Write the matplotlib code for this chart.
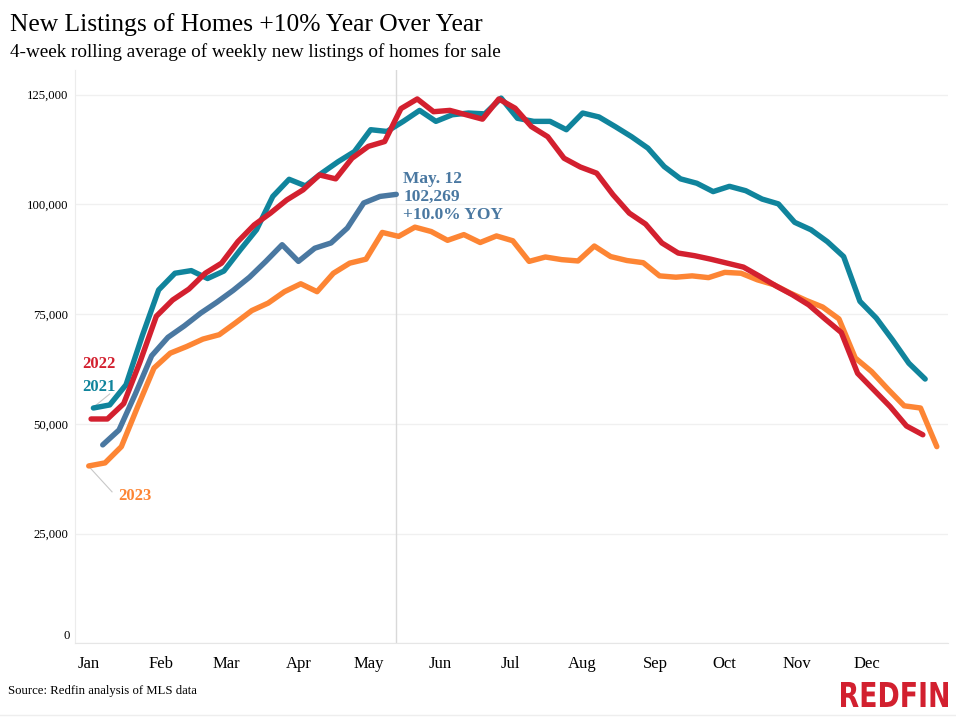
import matplotlib
matplotlib.use("Agg")
import matplotlib.pyplot as plt
import matplotlib.transforms as mtransforms
from matplotlib.font_manager import FontProperties
from matplotlib.patches import PathPatch
from matplotlib.textpath import TextPath
import pandas as pd

SERIF = ["Liberation Serif", "DejaVu Serif"]

# weekly new listings, 4-week rolling average, thousands
listings_2021 = [53.6, 54.3, 58.9, 70.1, 80.5, 84.3, 84.9, 83.1, 84.8, 89.6, 94.2, 101.8,
                 105.7, 104.2, 107.1, 109.7, 112.0, 117.0, 116.6, 118.9, 121.4, 118.9, 120.4,
                 120.8, 120.6, 124.2, 119.6, 118.9, 118.9, 117.0, 120.8, 119.9, 117.7, 115.4,
                 112.8, 108.6, 105.8, 104.8, 102.9, 104.1, 103.1, 101.2, 100.1, 95.9, 94.2,
                 91.5, 88.1, 77.9, 74.1, 69.1, 63.8, 60.2]
listings_2022 = [51.1, 51.1, 54.6, 64.1, 74.5, 78.2, 80.7, 84.3, 86.6, 91.5, 95.3, 98.0,
                 101.0, 103.3, 106.7, 105.8, 110.5, 113.2, 114.3, 121.8, 124.0, 121.1, 121.4,
                 120.4, 119.4, 124.0, 121.9, 117.7, 115.4, 110.5, 108.5, 107.1, 102.2, 98.0,
                 95.5, 91.2, 88.9, 88.3, 87.5, 86.6, 85.7, 83.6, 81.4, 79.4, 77.1, 73.9, 70.8,
                 61.5, 57.7, 53.9, 49.5, 47.5]
listings_2023 = [40.4, 41.1, 44.8, 53.9, 62.7, 66.1, 67.6, 69.3, 70.3, 73.0, 75.8, 77.5,
                 80.1, 81.9, 80.1, 84.3, 86.6, 87.5, 93.6, 92.7, 94.8, 93.8, 91.8, 93.1, 91.3,
                 92.8, 91.7, 87.0, 88.0, 87.4, 87.1, 90.5, 88.1, 87.2, 86.7, 83.7, 83.4, 83.7,
                 83.3, 84.5, 84.3, 82.8, 81.7, 79.8, 78.1, 76.6, 73.9, 65.0, 61.9, 57.9, 54.1,
                 53.6, 44.8]
listings_2024 = [45.2, 48.6, 56.8, 65.5, 69.7, 72.3, 75.2, 77.7, 80.4, 83.4, 87.0, 90.8,
                 87.0, 90.0, 91.2, 94.6, 100.3, 101.8, 102.269]

# first week-ending date of each year
start_dates = {"2021": "2021-01-03", "2022": "2022-01-02", "2023": "2023-01-01", "2024": "2024-01-07"}
colors = {"2021": "#10849c", "2022": "#d3202f", "2023": "#fd8534", "2024": "#4a78a1"}

months = ["Jan", "Feb", "Mar", "Apr", "May", "Jun", "Jul", "Aug", "Sep", "Oct", "Nov", "Dec"]
month_start_days = [0, 31, 59, 90, 120, 151, 181, 212, 243, 273, 304, 334]
y_ticks = [0, 25, 50, 75, 100, 125]
y_tick_labels = ["0", "25,000", "50,000", "75,000", "100,000", "125,000"]


def day_positions(start, n):
    dates = pd.date_range(start, periods=n, freq="7D")
    return (dates.dayofyear - 1).to_numpy()


W, H = 956, 717
fig = plt.figure(figsize=(W / 100, H / 100), dpi=100)
ax = fig.add_axes([75 / W, (H - 643.3) / H, 873 / W, (643.3 - 70) / H])

series = {"2021": listings_2021, "2022": listings_2022, "2023": listings_2023, "2024": listings_2024}
for year in ["2023", "2021", "2022", "2024"]:
    vals = series[year]
    x = day_positions(start_dates[year], len(vals))
    ax.plot(x, vals, color=colors[year], lw=3.9, solid_capstyle="round",
            solid_joinstyle="round", zorder=3)

ax.set_xlim(-5.9, 368.8)
ax.set_ylim(0, 130.6)

ax.set_yticks(y_ticks)
ax.set_yticklabels([""] + y_tick_labels[1:], fontfamily=SERIF, fontsize=9.2)
ax.set_xticks(month_start_days)
ax.set_xticklabels(months, fontfamily=SERIF, fontsize=12)
ax.tick_params(axis="both", length=0)
ax.tick_params(axis="y", pad=5)
ax.tick_params(axis="x", pad=9.5)
ax.text(-8.0, 1.7, "0", fontfamily=SERIF, fontsize=9.2, ha="right", va="center")

ax.grid(axis="y", color="#f0f0f0", lw=1)
ax.set_axisbelow(True)
for side in ["top", "right"]:
    ax.spines[side].set_visible(False)
ax.spines["left"].set_color("#ececec")
ax.spines["bottom"].set_color("#e6e6e6")

# May 12 marker
may12 = day_positions(start_dates["2024"], len(listings_2024))[-1]
ax.axvline(may12, color="#d9d9d9", lw=1, zorder=1)
ax.text(may12 + 3, 107.5, "May. 12\n102,269\n+10.0% YOY", color=colors["2024"],
        fontfamily=SERIF, fontsize=12.5, fontweight="bold", va="top", ha="left",
        linespacing=1.13)

# year labels
lbl_kw = dict(fontfamily=SERIF, fontsize=12, fontweight="bold", ha="center", va="center")
ax.text(4.4, 63.6, "2022", color=colors["2022"], **lbl_kw)
ax.text(4.4, 58.3, "2021", color=colors["2021"], **lbl_kw)
ax.text(20.0, 33.5, "2023", color=colors["2023"], **lbl_kw)
ax.plot([9, 2.3], [56.8, 53.9], color="#c8c8c8", lw=0.8, zorder=2)
ax.plot([10, 0], [34.5, 40.3], color="#c8c8c8", lw=0.8, zorder=2)

fig.text(10 / W, 1 - 25 / H, "New Listings of Homes +10% Year Over Year", fontfamily=SERIF,
         fontsize=18.4, va="center", ha="left")
fig.text(10 / W, 1 - 52 / H, "4-week rolling average of weekly new listings of homes for sale",
         fontfamily=SERIF, fontsize=13.8, va="center", ha="left")
fig.text(8 / W, 1 - 691 / H, "Source: Redfin analysis of MLS data", fontfamily=SERIF,
         fontsize=9.2, va="center", ha="left")

# condensed logo: squeeze a bold text path into the logo box
logo = TextPath((0, 0), "REDFIN", size=100, prop=FontProperties(family="DejaVu Sans", weight="bold"))
bb = logo.get_extents()
logo_tf = (mtransforms.Affine2D().translate(-bb.x0, -bb.y0)
           .scale(107 / bb.width, 25 / bb.height).translate(841, H - 707))
fig.add_artist(PathPatch(logo, transform=logo_tf, color="#d2202f", lw=0))
fig.add_artist(plt.Line2D([0, 1], [1 - 715 / H, 1 - 715 / H], color="#eeeeee", lw=1))

fig.savefig("out.png", dpi=100)
